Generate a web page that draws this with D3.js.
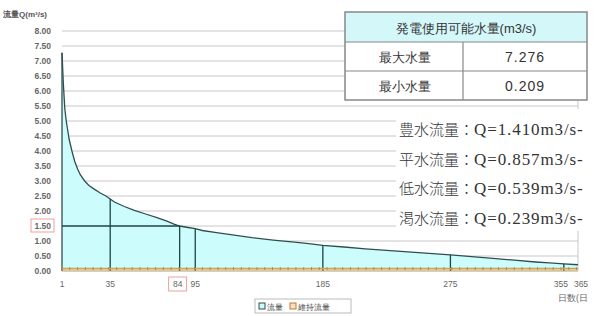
<!DOCTYPE html>
<html>
<head>
<meta charset="utf-8">
<script src="https://cdn.jsdelivr.net/npm/d3@7"></script>
<style>
  body { margin: 0; background: #fff; }
  svg text { font-family: "Liberation Sans", Arial, sans-serif; }
</style>
</head>
<body>
<svg id="chart" width="598" height="316"></svg>
<script>
// flow duration curve (day, m3/s)
const flowDays = [1, 2, 3, 4, 5, 6, 8, 10, 12, 14, 17, 20, 24, 28, 32, 35, 38, 45, 52, 60, 68, 75, 80, 84, 90, 95, 100, 110, 120, 135, 150, 165, 175, 185, 200, 215, 230, 245, 260, 275, 290, 305, 320, 335, 345, 355, 365];
const flowValues = [7.276, 6.2, 5.4, 5.0, 4.7, 4.4, 4.0, 3.65, 3.4, 3.2, 3.0, 2.85, 2.72, 2.6, 2.5, 2.4, 2.3, 2.15, 2.02, 1.9, 1.78, 1.66, 1.56, 1.5, 1.45, 1.41, 1.35, 1.28, 1.21, 1.11, 1.03, 0.96, 0.91, 0.857, 0.8, 0.74, 0.69, 0.64, 0.59, 0.539, 0.48, 0.42, 0.36, 0.3, 0.27, 0.239, 0.209];
const maintenanceFlow = 0.08;
const markDays = [35, 84, 95, 185, 275, 355];
const xTickDays = [1, 35, 84, 95, 185, 275, 355, 365];
const yTicks = d3.range(0, 8.01, 0.5);
const tableRows = [["最大水量", "7.276"], ["最小水量", "0.209"]];
const noteNames = ["豊水流量", "平水流量", "低水流量", "渇水流量"];
const noteValues = ["1.410", "0.857", "0.539", "0.239"];

const svg = d3.select("#chart");
const x = d3.scaleLinear().domain([1, 365]).range([62, 578]);
const y = d3.scaleLinear().domain([0, 8]).range([271, 31]);
const pts = flowDays.map((d, i) => [d, flowValues[i]]);
const valueAt = day => pts.find(p => p[0] === day)[1];

// grid
svg.append("g").selectAll("line").data(yTicks.filter(v => v > 0)).join("line")
  .attr("x1", x(1)).attr("x2", x(365))
  .attr("y1", d => y(d)).attr("y2", d => y(d))
  .attr("stroke", "#c8c8c8").attr("stroke-width", 1);
svg.append("line").attr("x1", x(365)).attr("x2", x(365)).attr("y1", y(8)).attr("y2", y(0))
  .attr("stroke", "#c8c8c8");

// area + curve
svg.append("path").datum(pts)
  .attr("fill", "#ccfcfc")
  .attr("d", d3.area().x(d => x(d[0])).y0(y(0)).y1(d => y(d[1])));
svg.append("path").datum(pts)
  .attr("fill", "none").attr("stroke", "#2f4f4f").attr("stroke-width", 1.3)
  .attr("d", d3.line().x(d => x(d[0])).y(d => y(d[1])));

// left edge
svg.append("line").attr("x1", x(1)).attr("x2", x(1)).attr("y1", y(valueAt(1))).attr("y2", y(0))
  .attr("stroke", "#2f4f4f").attr("stroke-width", 1.3);

// marker verticals
svg.append("g").selectAll("line").data(markDays).join("line")
  .attr("x1", d => x(d)).attr("x2", d => x(d))
  .attr("y1", d => y(valueAt(d))).attr("y2", y(0))
  .attr("stroke", "#1f4545").attr("stroke-width", 1.3);
// 1.50 horizontal
svg.append("line").attr("x1", x(1)).attr("x2", x(84)).attr("y1", y(1.5)).attr("y2", y(1.5))
  .attr("stroke", "#1f4545").attr("stroke-width", 1.3);

// maintenance flow
svg.append("line").attr("x1", x(1)).attr("x2", x(365)).attr("y1", y(maintenanceFlow)).attr("y2", y(maintenanceFlow))
  .attr("stroke", "#d9a050").attr("stroke-width", 1.6);
svg.append("g").selectAll("line").data(d3.range(1, 366, 5.5)).join("line")
  .attr("x1", d => x(d)).attr("x2", d => x(d))
  .attr("y1", y(maintenanceFlow) - 1.5).attr("y2", y(maintenanceFlow) + 1.5)
  .attr("stroke", "#b07830").attr("stroke-width", 0.8);
svg.append("line").attr("x1", x(1)).attr("x2", x(365)).attr("y1", y(0)).attr("y2", y(0))
  .attr("stroke", "#c89a60").attr("stroke-width", 1);

// y axis labels
svg.append("g").selectAll("text").data(yTicks).join("text")
  .attr("x", 51).attr("y", d => y(d) + 3)
  .attr("text-anchor", "end").attr("font-size", 8.5).attr("font-weight", "bold")
  .attr("fill", "#666").text(d => d.toFixed(2));
svg.append("rect").attr("x", 31).attr("y", y(1.5) - 7).attr("width", 23).attr("height", 13)
  .attr("fill", "none").attr("stroke", "#e88").attr("stroke-width", 0.8);
svg.append("text").attr("x", 3).attr("y", 17).attr("font-size", 8).attr("font-weight", "bold")
  .attr("fill", "#555").text("流量Q(m³/s)");

// x axis labels
svg.append("g").selectAll("text").data(xTickDays).join("text")
  .attr("x", d => d === 355 ? x(d) - 3 : d === 365 ? x(d) + 3 : d === 84 ? x(d) - 2 : x(d))
  .attr("y", 287).attr("text-anchor", "middle").attr("font-size", 8.5)
  .attr("fill", "#666").text(d => d);
svg.append("rect").attr("x", x(84) - 11).attr("y", 277).attr("width", 18).attr("height", 14)
  .attr("fill", "none").attr("stroke", "#e88").attr("stroke-width", 0.8);
svg.append("text").attr("x", 558).attr("y", 301).attr("font-size", 8.5).attr("fill", "#666").text("日数(日");

// legend
const lg = svg.append("g").attr("transform", "translate(255,299)");
lg.append("rect").attr("width", 96).attr("height", 14).attr("fill", "#fff").attr("stroke", "#bbb");
lg.append("rect").attr("x", 4).attr("y", 4).attr("width", 6).attr("height", 6).attr("fill", "#ccfcfc").attr("stroke", "#2f4f4f");
lg.append("text").attr("x", 12).attr("y", 10.5).attr("font-size", 8).attr("fill", "#444").text("流量");
lg.append("rect").attr("x", 35).attr("y", 4).attr("width", 6).attr("height", 6).attr("fill", "#fde0c0").attr("stroke", "#c07830");
lg.append("text").attr("x", 43).attr("y", 10.5).attr("font-size", 8).attr("fill", "#444").text("維持流量");

// table
const tb = svg.append("g").attr("transform", "translate(345,12)");
const cjk = "'Noto Sans CJK JP', sans-serif";
const serif = "'Liberation Serif', serif";
tb.append("rect").attr("width", 242).attr("height", 88).attr("fill", "#fff");
tb.append("rect").attr("width", 242).attr("height", 30).attr("fill", "#d4f7f9");
tb.append("text").attr("x", 121).attr("y", 21).attr("text-anchor", "middle").attr("font-size", 13)
  .attr("font-family", cjk).attr("font-weight", 300).attr("fill", "#333").text("発電使用可能水量(m3/s)");
tableRows.forEach((r, i) => {
  const ty = 30 + i * 29;
  tb.append("text").attr("x", 60).attr("y", ty + 20).attr("text-anchor", "middle").attr("font-size", 13)
    .attr("font-family", cjk).attr("font-weight", 300).attr("fill", "#333").text(r[0]);
  tb.append("text").attr("x", 180).attr("y", ty + 20).attr("text-anchor", "middle").attr("font-size", 14)
    .attr("font-family", serif).attr("letter-spacing", 1).attr("fill", "#333").text(r[1]);
});
tb.append("rect").attr("width", 242).attr("height", 88).attr("fill", "none").attr("stroke", "#888").attr("stroke-width", 1.5);
[30, 59].forEach(ly => tb.append("line").attr("x1", 0).attr("x2", 242).attr("y1", ly).attr("y2", ly)
  .attr("stroke", "#888").attr("stroke-width", 1.2));
tb.append("line").attr("x1", 118).attr("x2", 118).attr("y1", 30).attr("y2", 88).attr("stroke", "#888").attr("stroke-width", 1.2);

// flow notes
svg.append("rect").attr("x", 396).attr("y", 109).attr("width", 202).attr("height", 122).attr("fill", "#fff");
const notes = svg.append("g").selectAll("text").data(noteNames).join("text")
  .attr("x", 399).attr("y", (d, i) => 135 + i * 29.5)
  .attr("font-size", 15).attr("fill", "#333");
notes.append("tspan").attr("font-family", cjk).attr("font-weight", 300).text(d => d + "：");
notes.append("tspan").attr("font-family", serif).attr("font-size", 17).attr("letter-spacing", 0.9)
  .text((d, i) => "Q=" + noteValues[i] + "m3/s-");
</script>
</body>
</html>
